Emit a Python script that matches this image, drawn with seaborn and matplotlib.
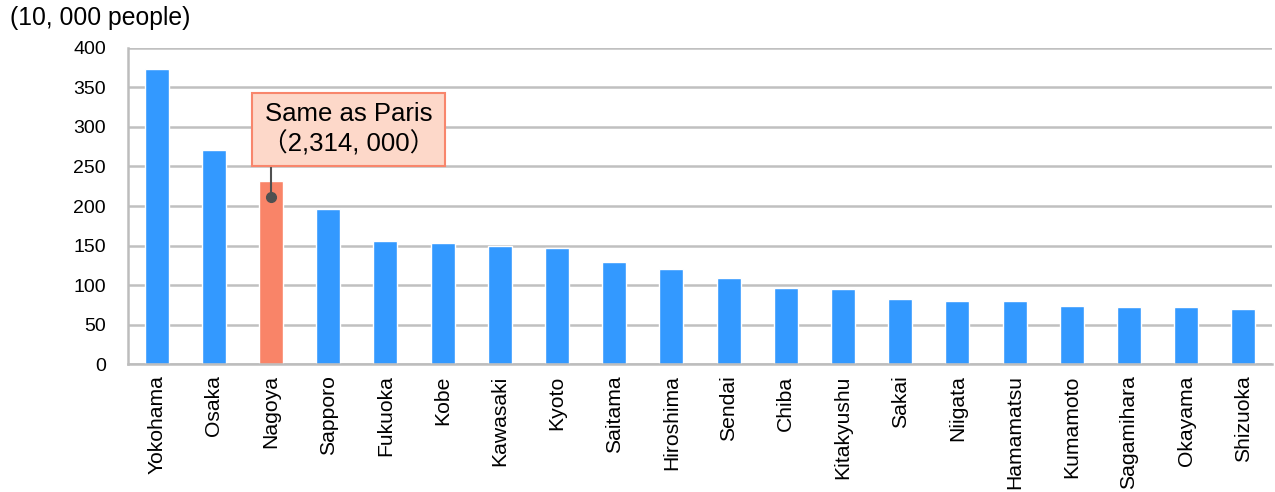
import matplotlib
matplotlib.use("Agg")
import matplotlib.pyplot as plt
import seaborn as sns
import pandas as pd

# City populations, in units of 10,000 people
cities = ["Yokohama", "Osaka", "Nagoya", "Sapporo", "Fukuoka", "Kobe", "Kawasaki",
          "Kyoto", "Saitama", "Hiroshima", "Sendai", "Chiba", "Kitakyushu", "Sakai",
          "Niigata", "Hamamatsu", "Kumamoto", "Sagamihara", "Okayama", "Shizuoka"]
population = [373, 271, 231.4, 196, 156, 153, 150, 147, 129, 120, 109, 97, 95, 83,
              80, 80, 74, 72, 72, 70]
highlight_city = "Nagoya"
y_ticks = [0, 50, 100, 150, 200, 250, 300, 350, 400]
note_lines = ["Same as Paris", "（2,314, 000）"]

sns.set_theme(style="white")
plt.rcParams["font.family"] = ["Liberation Sans", "Noto Sans CJK JP", "DejaVu Sans"]
plt.rcParams["text.color"] = "black"

df = pd.DataFrame({"city": cities, "pop": population})
df["group"] = ["hl" if c == highlight_city else "base" for c in cities]

fig = plt.figure(figsize=(12.75, 4.92), dpi=100)
ax = fig.add_axes([0.1004, 0.2596, 0.8972, 0.6434])

sns.barplot(data=df, x="city", y="pop", hue="group",
            palette={"base": "#3399FF", "hl": "#F98468"},
            dodge=False, width=0.42, legend=False, ax=ax, saturation=1)

ax.set_ylim(0, 400)
ax.set_xlim(-0.5, len(cities) - 0.5)
ax.set_yticks(y_ticks)
ax.yaxis.grid(True, color="#C0C0C0", linewidth=1.8)
ax.set_axisbelow(True)
for side in ["top", "right"]:
    ax.spines[side].set_visible(False)
for side in ["left", "bottom"]:
    ax.spines[side].set_color("#BDBDBD")
    ax.spines[side].set_linewidth(1.8)

ax.tick_params(axis="y", length=0, pad=16, labelsize=14, labelcolor="black")
ax.tick_params(axis="x", length=0, pad=8, labelsize=15.2, labelcolor="black", rotation=90)
ax.set_xlabel("")
ax.set_ylabel("")

fig.text(0.008, 0.963, "(10, 000 people)", fontsize=17.8, ha="left", va="center")

# Callout on the highlighted bar
hl_idx = cities.index(highlight_city)
hl_val = population[hl_idx]
dot_y = hl_val - 20
ax.plot([hl_idx, hl_idx], [dot_y, 250], color="#505050", linewidth=1.5, zorder=4)
ax.plot(hl_idx, dot_y, "o", color="#505050", markersize=7, zorder=5)
ax.text(3.36, 297, "\n".join(note_lines), ha="center", va="center", fontsize=18.5,
        linespacing=1.2, zorder=6,
        bbox=dict(boxstyle="square,pad=0.38", facecolor="#FDD8C9",
                  edgecolor="#F8866C", linewidth=1.5))

fig.savefig("out.png", dpi=100)
